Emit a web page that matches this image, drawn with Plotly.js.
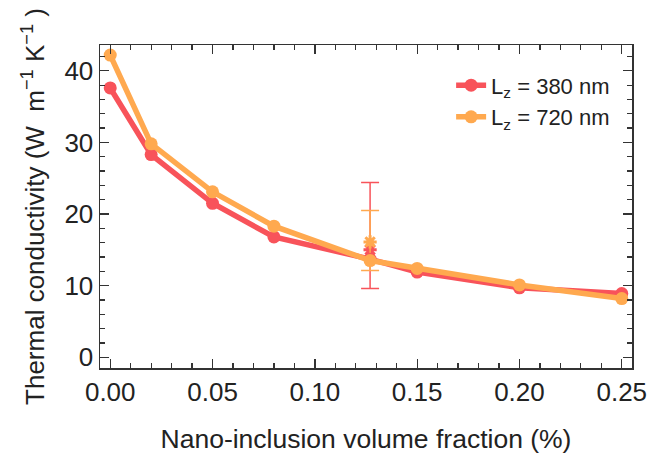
<!DOCTYPE html>
<html>
<head>
<meta charset="utf-8">
<script src="https://cdn.plot.ly/plotly-3.0.1.min.js"></script>
<style>html,body{margin:0;padding:0;background:#fff;}#chart{width:648px;height:454px;}</style>
</head>
<body>
<div id="chart"></div>
<script>
// Data
const fraction = [0.00, 0.02, 0.05, 0.08, 0.127, 0.15, 0.20, 0.25];
const k380 = [37.6, 28.3, 21.5, 16.8, 13.7, 11.9, 9.7, 8.9];
const k720 = [42.2, 29.8, 23.1, 18.3, 13.5, 12.4, 10.1, 8.2];
// measured points with error bars
const measX = [0.127];
const meas380 = [15.0];
const meas380Plus = [9.4];
const meas380Minus = [5.4];
const meas720 = [16.1];
const meas720Plus = [4.4];
const meas720Minus = [4.0];
const seriesNames = ['L<sub>z</sub> = 380 nm', 'L<sub>z</sub> = 720 nm'];

const red = '#F8535A';
const orange = '#FFA94F';
const font = 'Liberation Sans, Arial, sans-serif';

const traces = [
  {x: measX, y: meas380, type: 'scatter', mode: 'markers', showlegend: false,
   marker: {symbol: 'asterisk-open', size: 11, color: red, line: {color: red, width: 3}},
   error_y: {type: 'data', symmetric: false, array: meas380Plus, arrayminus: meas380Minus, color: red, thickness: 1.5, width: 9}},
  {x: measX, y: meas720, type: 'scatter', mode: 'markers', showlegend: false,
   marker: {symbol: 'asterisk-open', size: 11, color: orange, line: {color: orange, width: 3}},
   error_y: {type: 'data', symmetric: false, array: meas720Plus, arrayminus: meas720Minus, color: orange, thickness: 1.5, width: 9}},
  {x: fraction, y: k380, type: 'scatter', mode: 'lines+markers', name: seriesNames[0],
   line: {color: red, width: 5.5}, marker: {color: red, size: 13}},
  {x: fraction, y: k720, type: 'scatter', mode: 'lines+markers', name: seriesNames[1],
   line: {color: orange, width: 5.5}, marker: {color: orange, size: 13}}
];

const axisCommon = {
  showline: true, linecolor: '#333', linewidth: 1.5, mirror: 'ticks',
  ticks: 'inside', ticklen: 9, tickwidth: 1.3, tickcolor: '#333',
  showgrid: false, zeroline: false,
  tickfont: {family: font, size: 26, color: '#222'}
};

const layout = {
  width: 648, height: 454,
  margin: {l: 100, r: 16, t: 45, b: 86},
  paper_bgcolor: '#fff', plot_bgcolor: '#fff',
  font: {family: font, color: '#222'},
  showlegend: true,
  legend: {x: 0.66, y: 0.94, xanchor: 'left', yanchor: 'top', bgcolor: 'rgba(0,0,0,0)',
           font: {family: font, size: 22, color: '#222'}, tracegroupgap: 0, itemwidth: 30},
  xaxis: Object.assign({}, axisCommon, {
    range: [-0.005, 0.255], tickmode: 'linear', tick0: 0, dtick: 0.05, tickformat: '.2f',
    minor: {ticks: 'inside', dtick: 0.01, ticklen: 5, tickwidth: 1.2, tickcolor: '#333'},
    title: {text: 'Nano-inclusion volume fraction (%)', font: {family: font, size: 26.5, color: '#222'}, standoff: 26}
  }),
  yaxis: Object.assign({}, axisCommon, {
    range: [-1.5, 43.6], tickmode: 'linear', tick0: 0, dtick: 10,
    minor: {ticks: 'inside', dtick: 2, ticklen: 5, tickwidth: 1.2, tickcolor: '#333'},
    title: {text: 'Thermal conductivity (W  m<sup>−1</sup> K<sup>−1</sup> )', font: {family: font, size: 26, color: '#222'}, standoff: 12}
  })
};

Plotly.newPlot('chart', traces, layout, {displayModeBar: false, staticPlot: true});
</script>
</body>
</html>
